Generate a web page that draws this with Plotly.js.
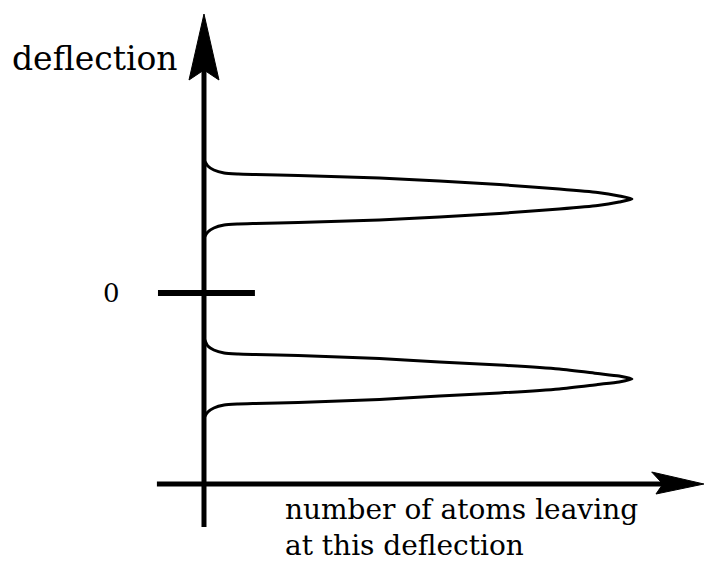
<!DOCTYPE html>
<html>
<head>
<meta charset="utf-8">
<script src="https://cdn.plot.ly/plotly-3.0.1.min.js"></script>
<style>
  html, body { margin: 0; padding: 0; background: #ffffff; }
  #chart { width: 712px; height: 563px; }
</style>
</head>
<body>
<div id="chart"></div>
<script>
// Two beams leaving the magnet: number of atoms (x) at each deflection (y).
// Upper beam, listed from low to high deflection.
const upperDeflection = [55, 61, 65, 68, 69, 69.5, 70.5, 73, 76, 79.5, 84, 87.5, 91, 94,
                         97, 100.5, 104, 108.5, 112, 115, 117.5, 118.5, 119, 120, 123, 127, 133];
const upperCount      = [0, 0.9, 2.3, 4.7, 8, 12, 22, 41, 55, 69, 83, 92, 97, 100,
                         97, 92, 83, 69, 55, 41, 22, 12, 8, 4.7, 2.3, 0.9, 0];

// Lower beam, listed from low to high deflection.
const lowerDeflection = [-125, -119, -115, -112, -111, -110.5, -109.5, -106.5, -103, -100, -96, -91.5, -89, -86,
                         -83, -80.5, -76, -72, -69, -65.5, -62.5, -61.5, -61, -60, -57, -53, -45];
const lowerCount      = [0, 0.9, 2.3, 4.7, 8, 12, 22, 41, 55, 69, 83, 92, 97, 100,
                         97, 92, 83, 69, 55, 41, 22, 12, 8, 4.7, 2.3, 0.9, 0];

// Axis annotations
const zeroLabel = '0';
const yLabel = 'deflection';
const xLabelLines = ['number of atoms leaving', 'at this deflection'];

const INK = '#000000';
const SERIF = 'DejaVu Serif, Liberation Serif, serif';

// Extents of the hand-drawn axes, in data units
const X_MIN = -47.66, X_MAX = 118.69;   // count axis range
const Y_MIN = -270,  Y_MAX = 293;       // deflection axis range
const xAxisY = -191;                    // height of the count axis line
const vTop = 279, vBottom = -234;       // vertical axis span
const hLeft = -11, hRight = 116.8;      // horizontal axis span

const beamLine = { color: INK, width: 3, shape: 'spline', smoothing: 0.6 };

const traces = [
  { x: upperCount, y: upperDeflection, type: 'scatter', mode: 'lines',
    line: beamLine, hoverinfo: 'skip', showlegend: false },
  { x: lowerCount, y: lowerDeflection, type: 'scatter', mode: 'lines',
    line: beamLine, hoverinfo: 'skip', showlegend: false }
];

const shapes = [
  // vertical (deflection) axis
  { type: 'line', xref: 'x', yref: 'y', x0: 0, x1: 0, y0: vBottom, y1: vTop - 40,
    line: { color: INK, width: 5 } },
  // arrowhead on the deflection axis
  { type: 'path', xref: 'x', yref: 'y',
    path: `M 0 ${vTop} L 3.5 ${vTop - 66} L 0 ${vTop - 56} L -3.5 ${vTop - 66} Z`,
    fillcolor: INK, line: { color: INK, width: 1 } },
  // horizontal (count) axis
  { type: 'line', xref: 'x', yref: 'y', x0: hLeft, x1: hRight - 8, y0: xAxisY, y1: xAxisY,
    line: { color: INK, width: 5 } },
  // arrowhead on the count axis
  { type: 'path', xref: 'x', yref: 'y',
    path: `M ${hRight} ${xAxisY} L ${hRight - 12.2} ${xAxisY + 12} L ${hRight - 9.6} ${xAxisY} L ${hRight - 11.2} ${xAxisY - 10} Z`,
    fillcolor: INK, line: { color: INK, width: 1 } },
  // zero-deflection tick
  { type: 'line', xref: 'x', yref: 'y', x0: -10.75, x1: 11.9, y0: 0, y1: 0,
    line: { color: INK, width: 6 } }
];

const annotations = [
  { x: -21.7, y: 0, xref: 'x', yref: 'y', text: zeroLabel, showarrow: false,
    xanchor: 'center', yanchor: 'middle', font: { family: SERIF, size: 26, color: INK } },
  { x: -25.5, y: 235, xref: 'x', yref: 'y', text: yLabel, showarrow: false,
    xanchor: 'center', yanchor: 'middle', font: { family: SERIF, size: 33, color: INK } },
  // two-line caption of the count axis, set as one block
  { x: 18.6, y: Y_MIN, xref: 'x', yref: 'y', text: xLabelLines.join('<br>'), showarrow: false,
    xanchor: 'left', yanchor: 'bottom', align: 'left', borderpad: 0,
    font: { family: SERIF, size: 28, color: INK } }
];

const layout = {
  width: 712, height: 563,
  margin: { l: 0, r: 0, t: 0, b: 0, pad: 0 },
  paper_bgcolor: '#ffffff', plot_bgcolor: '#ffffff',
  xaxis: { range: [X_MIN, X_MAX], visible: false, fixedrange: true },
  yaxis: { range: [Y_MIN, Y_MAX], visible: false, fixedrange: true },
  shapes: shapes,
  annotations: annotations,
  showlegend: false
};

Plotly.newPlot('chart', traces, layout, { displayModeBar: false, staticPlot: true });
</script>
</body>
</html>
